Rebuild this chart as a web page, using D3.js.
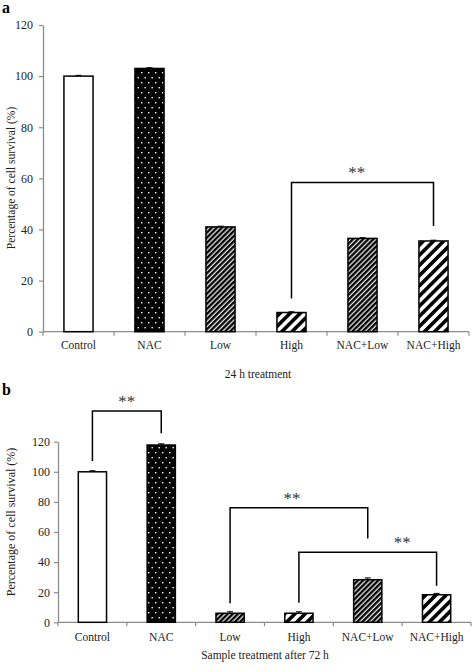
<!DOCTYPE html>
<html><head><meta charset="utf-8">
<script src="https://cdn.jsdelivr.net/npm/d3@7"></script>
<style>
html,body{margin:0;padding:0;background:#fff;}
svg{display:block;font-family:"Liberation Serif","Times New Roman",serif;}
</style></head>
<body>
<svg id="chart" width="472" height="672"></svg>
<script>
// ---------- data ----------
const categories = ["Control","NAC","Low","High","NAC+Low","NAC+High"];
const patterns = ["plain","dots","fine","wide","fine","wide"];
const valuesA = [100, 103, 41, 7.5, 36.5, 35.5];
const errorsA = [0.3, 0.3, 0.3, 0.3, 0.3, 0.3];
const valuesB = [100, 117.8, 6, 6, 28.3, 18.3];
const errorsB = [0.7, 0.8, 1, 1, 1.2, 0.9];
const yTicks = [0, 20, 40, 60, 80, 100, 120];
// brackets: [fromIdx, toIdx, topValue, leftLegBottom, rightLegBottom, starCategoryPos]
const bracketsA = [[3, 5, 58.4, 13, 41.4, 3.92]];
const bracketsB = [
  [0, 1, 140.4, 107.2, 125.6, 0.5],
  [2, 4, 76.1, 12.6, 55.6, 2.9],
  [3, 5, 46.5, 13, 24.3, 4.5]
];
const xTitleA = "24 h treatment";
const xTitleB = "Sample treatment after 72 h";
const yTitle = "Percentage of cell survival (%)";

const svg = d3.select("#chart");
const defs = svg.append("defs");

// patterns
const pd = defs.append("pattern").attr("id","dots").attr("patternUnits","userSpaceOnUse")
  .attr("width",7).attr("height",10);
pd.append("rect").attr("width",7).attr("height",10).attr("fill","#000");
pd.append("rect").attr("x",1).attr("y",2).attr("width",1.4).attr("height",1.4).attr("fill","#fff");
pd.append("rect").attr("x",4.5).attr("y",7).attr("width",1.4).attr("height",1.4).attr("fill","#fff");

const pf = defs.append("pattern").attr("id","fine").attr("patternUnits","userSpaceOnUse")
  .attr("width",3.6).attr("height",10).attr("patternTransform","rotate(45)");
pf.append("rect").attr("width",3.6).attr("height",10).attr("fill","#e8e8e8");
pf.append("rect").attr("width",2.3).attr("height",10).attr("fill","#000");

const pw = defs.append("pattern").attr("id","wide").attr("patternUnits","userSpaceOnUse")
  .attr("width",7.2).attr("height",10).attr("patternTransform","rotate(45)");
pw.append("rect").attr("width",7.2).attr("height",10).attr("fill","#fff");
pw.append("rect").attr("width",3.6).attr("height",10).attr("fill","#000");

function fillFor(p){ return p==="plain" ? "#fff" : `url(#${p})`; }

function panel(cfg){
  const g = svg.append("g");
  const x = d3.scaleBand().domain(categories).range([cfg.x0, cfg.x1]).paddingInner(0.59).paddingOuter(0.295);
  const xb = d3.scaleLinear().domain([0, categories.length]).range([cfg.x0, cfg.x1]);
  const y = d3.scaleLinear().domain([0,120]).range([cfg.y0, cfg.y1]);

  // y axis
  const ya = g.append("g").attr("transform",`translate(${cfg.x0},0)`)
    .call(d3.axisLeft(y).tickValues(yTicks).tickSize(4).tickPadding(cfg.tickPad).tickSizeOuter(0));
  ya.select(".domain").attr("stroke","#8c8c8c").attr("stroke-width",1.3);
  ya.selectAll(".tick line").attr("stroke","#8c8c8c").attr("stroke-width",1.2);
  ya.selectAll(".tick text").attr("font-family","Liberation Serif").attr("font-size",cfg.tickFont).attr("fill","#222");

  // x axis line with boundary ticks
  g.append("line").attr("x1",cfg.x0).attr("x2",cfg.x1).attr("y1",cfg.y0).attr("y2",cfg.y0)
    .attr("stroke","#8c8c8c").attr("stroke-width",1.3);
  g.selectAll("line.bt").data(d3.range(categories.length+1)).join("line").attr("class","bt")
    .attr("x1",d=>xb(d)).attr("x2",d=>xb(d)).attr("y1",cfg.y0).attr("y2",cfg.y0+4)
    .attr("stroke","#8c8c8c").attr("stroke-width",1.2);

  // category labels
  g.selectAll("text.cat").data(categories).join("text").attr("class","cat")
    .attr("x",d=>x(d)+x.bandwidth()/2).attr("y",cfg.catY).attr("text-anchor","middle")
    .attr("font-size",cfg.catFont).attr("fill","#222").text(d=>d);

  // bars
  g.selectAll("rect.bar").data(cfg.values).join("rect").attr("class","bar")
    .attr("x",(d,i)=>x(categories[i])).attr("width",x.bandwidth())
    .attr("y",d=>y(d)).attr("height",d=>cfg.y0-y(d))
    .attr("fill",(d,i)=>fillFor(patterns[i])).attr("stroke","#000").attr("stroke-width",1.5);

  // error bars
  cfg.values.forEach((v,i)=>{
    const cx = x(categories[i])+x.bandwidth()/2, e = cfg.errors[i];
    g.append("line").attr("x1",cx).attr("x2",cx).attr("y1",y(v)).attr("y2",y(v+e)).attr("stroke","#000").attr("stroke-width",1);
    g.append("line").attr("x1",cx-3).attr("x2",cx+3).attr("y1",y(v+e)).attr("y2",y(v+e)).attr("stroke","#000").attr("stroke-width",1);
  });

  // brackets
  cfg.brackets.forEach(b=>{
    const xa = x(categories[b[0]])+x.bandwidth()/2, xz = x(categories[b[1]])+x.bandwidth()/2;
    g.append("path").attr("d",`M${xa},${y(b[3])}V${y(b[2])}H${xz}V${y(b[4])}`)
      .attr("fill","none").attr("stroke","#000").attr("stroke-width",1.5);
    g.append("text").attr("x",xb(b[5]+0.5)).attr("y",y(b[2])-4).attr("text-anchor","middle")
      .attr("font-size",17).attr("fill","#333").text("**");
  });

  // titles
  g.append("text").attr("x",cfg.xTitleX).attr("y",cfg.xTitleY).attr("text-anchor","middle")
    .attr("font-size",11.5).attr("fill","#222").text(cfg.xTitle);
  g.append("text").attr("transform",`translate(${cfg.yTitleX},${cfg.yTitleY}) rotate(-90)`)
    .attr("text-anchor","middle").attr("font-size",cfg.yTitleFont).attr("fill","#222").text(yTitle);
  g.append("text").attr("x",cfg.labX).attr("y",cfg.labY).attr("font-size",16).attr("font-weight","bold").text(cfg.label);
}

panel({x0:43, x1:469, y0:331.7, y1:25, values:valuesA, errors:errorsA, brackets:bracketsA,
  tickPad:6, tickFont:12, catFont:11.5, catY:349, xTitle:xTitleA, xTitleX:258, xTitleY:378,
  yTitleX:15, yTitleY:178, yTitleFont:11.5, label:"a", labX:2, labY:13});
panel({x0:58, x1:471, y0:622.3, y1:441.7, values:valuesB, errors:errorsB, brackets:bracketsB,
  tickPad:4, tickFont:12, catFont:11.5, catY:641, xTitle:xTitleB, xTitleX:265, xTitleY:659,
  yTitleX:15, yTitleY:522, yTitleFont:12, label:"b", labX:2, labY:395});
</script>
</body></html>
